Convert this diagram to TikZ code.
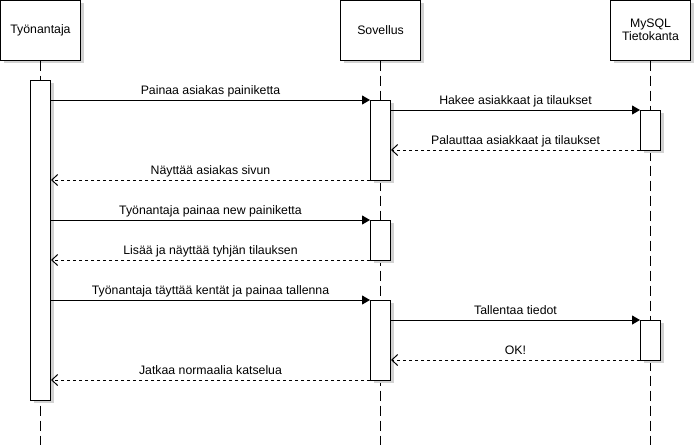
\documentclass[tikz,border=0pt]{standalone}
\usepackage{fontspec}
\setmainfont{Liberation Sans}
\usetikzlibrary{arrows.meta,shadows}
\definecolor{shade}{RGB}{210,210,210}
\begin{document}
\begin{tikzpicture}[x=1pt,y=-1pt,
  every node/.style={font=\fontsize{12.3}{14}\selectfont},
  box/.style={draw, line width=1pt, fill=white, inner sep=0pt,
    drop shadow={shadow xshift=3pt, shadow yshift=-3pt, opacity=1, fill=shade}},
  participant/.style={box, minimum width=80pt, minimum height=60pt, align=center},
  act/.style={box, minimum width=20pt},
  lifeline/.style={line width=1pt, dash pattern=on 10pt off 5pt},
  sync/.style={line width=1pt, -{Triangle[length=8pt,width=9pt]}},
  reply/.style={line width=1pt, dash pattern=on 3pt off 3pt, -{Straight Barb[length=6pt,width=11pt]}},
  lbl/.style={midway, anchor=base, yshift=6pt, inner sep=0pt}]
\path[use as bounding box] (0,0) rectangle (695,445);
% participants
\node[participant] (pT) at (40.5,30) {Työnantaja};
\node[participant] (pS) at (380.5,30) {Sovellus};
\node[participant] (pM) at (650.5,30) {MySQL\\[-1pt]Tietokanta};
% lifeline ends
\coordinate (eT) at (40.5,445);
\coordinate (eS) at (380.5,445);
\coordinate (eM) at (650.5,445);
\draw[lifeline] (pT.south) -- (eT);
\draw[lifeline] (pS.south) -- (eS);
\draw[lifeline] (pM.south) -- (eM);
% activations
\node[act, minimum height=320pt] (aT) at (40.5,240) {};
\node[act, minimum height=80pt] (s1) at (380.5,140) {};
\node[act, minimum height=40pt] (s2) at (380.5,240) {};
\node[act, minimum height=80pt] (s3) at (380.5,340) {};
\node[act, minimum height=40pt] (m1) at (650.5,130) {};
\node[act, minimum height=40pt] (m2) at (650.5,340) {};
% messages
\draw[sync] (aT.east |- 0,100) -- node[lbl]{Painaa asiakas painiketta} (s1.west |- 0,100);
\draw[sync] (s1.east |- 0,110) -- node[lbl]{Hakee asiakkaat ja tilaukset} (m1.west |- 0,110);
\draw[reply] (m1.west |- 0,150) -- node[lbl]{Palauttaa asiakkaat ja tilaukset} (s1.east |- 0,150);
\draw[reply] (s1.west |- 0,180) -- node[lbl]{Näyttää asiakas sivun} (aT.east |- 0,180);
\draw[sync] (aT.east |- 0,220) -- node[lbl]{Työnantaja painaa new painiketta} (s2.west |- 0,220);
\draw[reply] (s2.west |- 0,260) -- node[lbl]{Lisää ja näyttää tyhjän tilauksen} (aT.east |- 0,260);
\draw[sync] (aT.east |- 0,300) -- node[lbl]{Työnantaja täyttää kentät ja painaa tallenna} (s3.west |- 0,300);
\draw[sync] (s3.east |- 0,320) -- node[lbl]{Tallentaa tiedot} (m2.west |- 0,320);
\draw[reply] (m2.west |- 0,360) -- node[lbl]{OK!} (s3.east |- 0,360);
\draw[reply] (s3.west |- 0,380) -- node[lbl]{Jatkaa normaalia katselua} (aT.east |- 0,380);
\end{tikzpicture}
\end{document}
